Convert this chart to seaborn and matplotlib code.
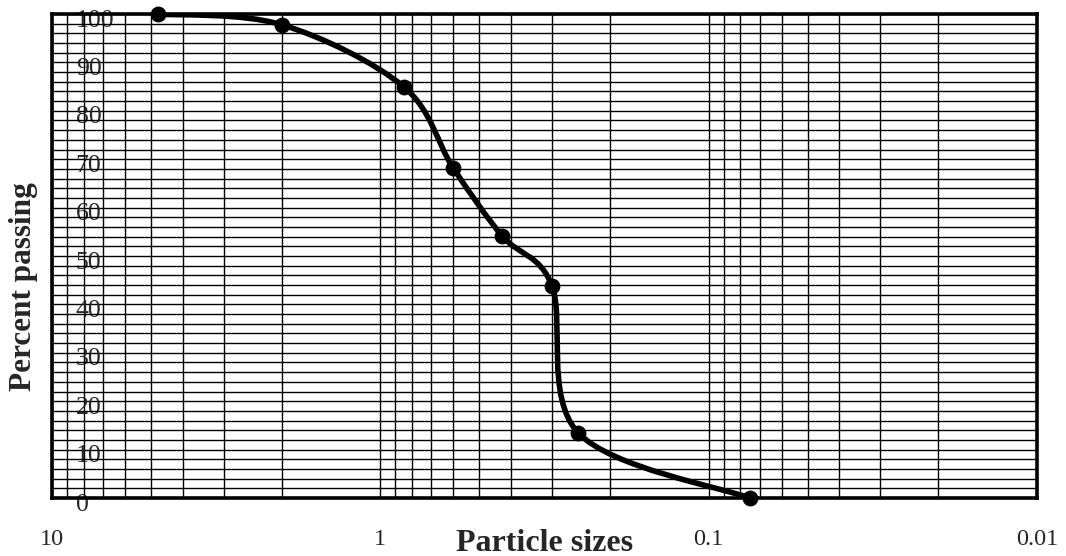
import numpy as np
import matplotlib
matplotlib.use('Agg')
import matplotlib.pyplot as plt
import matplotlib.transforms as mtransforms
from matplotlib.path import Path
from matplotlib.patches import PathPatch
from matplotlib.ticker import FixedLocator, LogLocator, MultipleLocator, NullFormatter
import seaborn as sns

# sieve analysis: particle size (mm) vs percent passing
sizes = [4.75, 2.0, 0.85, 0.6, 0.425, 0.3, 0.25, 0.075]
passing = [100.0, 97.8, 85.0, 68.2, 54.1, 43.8, 13.5, 0.0]

x_ticks = [10, 1, 0.1, 0.01]
x_tick_labels = ['10', '1', '0.1', '0.01']
y_ticks = list(range(0, 101, 10))

sns.set_style('white')
plt.rcParams['font.family'] = ['Liberation Serif', 'DejaVu Serif']

fig = plt.figure(figsize=(10.66, 5.56), dpi=100, facecolor='white')
ax = fig.add_axes([0.0488, 0.1043, 0.9240, 0.8705])
ax.set_xscale('log')
ax.set_xlim(10, 0.01)
ax.set_ylim(0, 100)

# grid: log minor lines on x, every 2 % on y
ax.xaxis.set_major_locator(FixedLocator(x_ticks))
ax.xaxis.set_minor_locator(LogLocator(base=10, subs=np.arange(2, 10)))
ax.xaxis.set_minor_formatter(NullFormatter())
ax.set_xticklabels(x_tick_labels)
ax.yaxis.set_major_locator(FixedLocator(y_ticks))
ax.yaxis.set_minor_locator(MultipleLocator(2))
ax.grid(which='both', color='black', linewidth=1.0)
ax.set_axisbelow(True)

ax.tick_params(axis='both', which='both', length=0)
ax.tick_params(axis='x', labelsize=17.5, pad=22)
ax.tick_params(axis='y', labelsize=18.5, pad=-17)
for lab in ax.get_yticklabels():
    lab.set_horizontalalignment('left')
    lab.set_transform(lab.get_transform() +
                      mtransforms.ScaledTranslation(0, -3 / 72, fig.dpi_scale_trans))

for sp in ax.spines.values():
    sp.set_visible(True)
    sp.set_color('black')
    sp.set_linewidth(2.6)

# smoothed curve (Excel style bezier through the points)
pts = ax.transData.transform(np.column_stack([sizes, passing]))
n = len(pts)
verts = [pts[0]]
codes = [Path.MOVETO]
for i in range(n - 1):
    p0 = pts[i - 1] if i > 0 else pts[i]
    p1 = pts[i]
    p2 = pts[i + 1]
    p3 = pts[i + 2] if i + 2 < n else pts[i + 1]
    verts += [p1 + (p2 - p0) / 6, p2 - (p3 - p1) / 6, p2]
    codes += [Path.CURVE4] * 3
verts = ax.transData.inverted().transform(np.array(verts))
curve = PathPatch(Path(verts, codes), fill=False, edgecolor='black',
                  linewidth=4.0, capstyle='round', joinstyle='round',
                  transform=ax.transData, zorder=3)
ax.add_patch(curve)

sns.scatterplot(x=sizes, y=passing, ax=ax, color='black', s=130,
                edgecolor='black', linewidth=0, zorder=4, clip_on=False)

ax.set_xlabel('Particle sizes', fontsize=23, fontweight='bold')
ax.xaxis.label.set_verticalalignment('center')
ax.xaxis.set_label_coords(0.5, -0.093)
ax.set_ylabel('Percent passing', fontsize=22.5, fontweight='bold')
ax.yaxis.label.set_verticalalignment('center')
ax.yaxis.set_label_coords(-0.0294, 0.436)

fig.savefig('out.png', dpi=100, facecolor='white')
plt.close(fig)
